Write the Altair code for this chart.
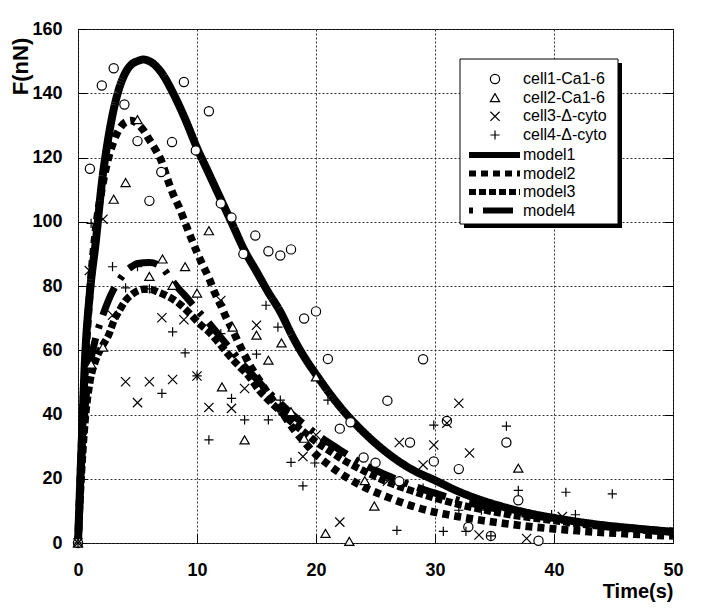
import altair as alt
import pandas as pd

FONT = "Liberation Sans"

x_ticks = [0, 10, 20, 30, 40, 50]
y_ticks = [0, 20, 40, 60, 80, 100, 120, 140, 160]

cell_names = ["cell1-Ca1-6", "cell2-Ca1-6", "cell3-\u0394-cyto", "cell4-\u0394-cyto"]
model_names = ["model1", "model2", "model3", "model4"]

# ---- measured points ----
cell1_t = [0, 1.0, 2.0, 3.0, 3.9, 5.0, 6.0, 7.0, 7.9, 8.9, 9.9, 11.0, 12.0, 12.9, 13.9, 14.9, 16.0, 17.0, 17.9,
           19.0, 20.0, 21.0, 22.0, 22.9, 24.0, 25.0, 26.0, 27.0, 27.9, 29.0, 29.9, 31.0, 32.0, 32.8, 34.7, 36.0,
           37.0, 38.7]
cell1_f = [0, 116.5, 142.4, 147.8, 136.5, 125.1, 106.5, 115.5, 124.8, 143.5, 122.2, 134.4, 105.7, 101.3, 90.0,
           95.7, 90.8, 89.5, 91.4, 69.9, 72.1, 57.3, 35.6, 37.6, 26.6, 25.0, 44.3, 19.2, 31.3, 57.2, 25.4, 38.0,
           23.0, 5.0, 2.2, 31.3, 13.3, 0.7]

cell2_t = [0, 1.1, 2.1, 3.0, 4.0, 5.0, 6.0, 7.1, 7.95, 9.0, 10.0, 11.0, 12.1, 13.0, 14.0, 15.0, 16.0, 17.1, 17.9,
           19.0, 20.0, 20.8, 22.8, 24.1, 24.9, 37.0]
cell2_f = [0, 55.7, 61.0, 107.0, 112.2, 131.8, 83.0, 88.4, 80.2, 86.0, 77.8, 97.2, 48.6, 67.2, 32.1, 64.7, 56.9,
           62.3, 40.9, 32.6, 51.7, 3.0, 0.5, 19.4, 11.5, 23.3]

cell3_t = [0, 0.95, 2.1, 2.9, 4.0, 5.0, 6.0, 7.05, 7.95, 8.9, 10.0, 11.0, 12.0, 12.9, 14.0, 15.0, 18.9, 20.0, 22.0,
           26.0, 27.0, 29.0, 29.9, 31.0, 32.0, 32.9, 33.7, 37.7, 40.7]
cell3_f = [0, 84.8, 100.8, 70.9, 50.2, 43.7, 50.2, 70.1, 50.9, 69.5, 52.0, 42.2, 75.5, 41.9, 48.1, 67.8, 26.9, 33.6,
           6.5, 19.2, 31.3, 24.3, 30.5, 37.3, 43.5, 28.0, 2.5, 1.4, 8.2]

cell4_t = [0, 1.1, 2.9, 4.0, 5.0, 6.0, 7.05, 7.95, 9.0, 10.0, 11.0, 12.0, 12.9, 14.0, 15.0, 15.8, 16.0, 16.8, 17.0,
           17.9, 18.9, 19.9, 21.0, 26.8, 29.0, 29.9, 30.7, 32.0, 32.6, 33.9, 34.7, 36.0, 37.0, 39.8, 41.0, 41.8,
           44.9]
cell4_f = [0, 99.5, 86.0, 79.4, 86.0, 79.1, 46.6, 65.7, 59.2, 52.0, 32.1, 65.2, 45.0, 38.3, 58.8, 74.0, 38.3, 67.2,
           44.5, 25.1, 17.8, 24.9, 44.5, 3.9, 17.1, 36.7, 3.6, 10.2, 3.6, 10.2, 2.2, 36.4, 16.4, 8.8, 15.8, 8.8, 15.3]

# ---- model curves ----
model1_t = [0, 0.3, 0.6, 1, 1.5, 2, 2.5, 3, 3.5, 4, 4.5, 5, 5.5, 6, 7, 8, 9, 10, 11, 12, 13, 14, 15, 16, 17, 18,
            19, 20, 22, 24, 26, 28, 30, 32, 34, 36, 38, 40, 42, 44, 46, 48, 50]
model1_f = [0, 30, 58, 78, 94, 112, 125, 135, 142, 146.5, 149, 150, 150.5, 150, 146.5, 140, 132, 123, 115, 107, 99,
            91, 84.5, 78, 72, 64.5, 58, 52.5, 42.5, 34.5, 28, 23, 19.5, 16, 13.2, 11, 9.2, 7.8, 6.6, 5.6, 4.8, 4.1,
            3.5]

model2_t = [0, 0.3, 0.6, 1, 1.5, 2, 2.5, 3, 3.5, 4, 4.5, 5, 5.5, 6, 6.5, 7, 7.5, 8, 8.5, 9, 9.5, 10, 10.5, 11, 11.5,
            12, 12.5, 13, 13.5, 14, 14.5, 15, 15.5, 16, 17, 18, 19, 20, 21, 22, 24, 26, 28, 30, 32, 34, 36, 38, 40,
            42, 44, 46, 48, 50]
model2_f = [0, 30, 55, 78, 98, 110, 119, 125, 129, 131, 131.5, 130.5, 128.5, 125.5, 122.5, 119, 113.5, 108.5, 104.5,
            99.7, 95, 90.5, 86.4, 82.5, 77.8, 74, 69.8, 66.2, 62.3, 58.5, 55, 52, 49.2, 46.3, 41.5, 36, 31.5, 27.5,
            24.5, 21.8, 17.5, 14.3, 11.6, 9.6, 8.2, 7, 6, 5.1, 4.4, 3.8, 3.3, 2.9, 2.5, 2.2]

model3_t = [0, 0.3, 0.6, 1, 1.5, 2, 2.6, 3, 3.5, 4, 4.5, 5, 5.5, 6, 6.8, 7.7, 8.5, 9.4, 10.2, 11, 11.9, 12.7, 13.6,
            14.4, 15.2, 16, 17, 18, 19, 20, 21, 22, 24, 26, 28, 30, 32, 34, 36, 38, 40, 42, 44, 46, 48, 50]
model3_f = [0, 22, 38, 50, 57, 61, 65, 69, 72.5, 75.5, 77.3, 78.5, 79, 79, 78, 76.5, 74.5, 71.4, 68.3, 65.7, 62,
            58.4, 54.8, 51.7, 47.6, 44.5, 41, 37.5, 34.5, 31.5, 29, 26.5, 22.5, 19, 16.3, 14, 12, 10.4, 9, 7.9, 7,
            6, 5.2, 4.5, 3.9, 3.4]

model4_t = [0, 0.3, 0.6, 1, 1.5, 2, 2.5, 3, 3.5, 4, 4.5, 5, 6, 7, 7.9, 8.5, 9, 9.9, 11, 12, 13, 14, 15, 16, 17, 18,
            19, 20, 22, 24, 26, 28, 30, 32, 34, 36, 38, 40, 42, 44, 46, 48, 50]
model4_f = [0, 25, 42, 55, 64, 70, 75, 79, 82, 84.5, 86, 87, 87.3, 86, 81.7, 79, 77, 73, 68.5, 64, 59.5, 55, 51, 47,
            43.5, 40, 37, 34, 29, 24.5, 21, 18, 15.5, 13.3, 11.5, 10, 8.6, 7.5, 6.5, 5.6, 4.9, 4.2, 3.7]

# ---- tables ----
pts = []
for name, ts, fs in zip(cell_names, [cell1_t, cell2_t, cell3_t, cell4_t], [cell1_f, cell2_f, cell3_f, cell4_f]):
    for t, f in zip(ts, fs):
        pts.append({"t": t, "F": f, "cell": name})
pts_df = pd.DataFrame(pts)
pts_a = pts_df[pts_df["cell"].isin(cell_names[:2])]
pts_b = pts_df[pts_df["cell"].isin(cell_names[2:])]

lns = []
for name, ts, fs in zip(model_names, [model1_t, model2_t, model3_t, model4_t],
                        [model1_f, model2_f, model3_f, model4_f]):
    for t, f in zip(ts, fs):
        lns.append({"t": t, "F": f, "model": name})
lines_df = pd.DataFrame(lns)

cells_df = pd.DataFrame({"cell": cell_names})
models_df = pd.DataFrame({"model": model_names})

W, H = 595, 514

def xs():
    return alt.Scale(domain=[0, 50], nice=False, zero=False)

def ys():
    return alt.Scale(domain=[0, 160], nice=False)

XPATH = "M-1,-1L1,1M-1,1L1,-1"
PPATH = "M-1,0L1,0M0,-1L0,1"

shape_scale = alt.Scale(domain=cell_names, range=["circle", "triangle-up", XPATH, PPATH])
dash_scale = alt.Scale(domain=model_names, range=[[1, 0], [7, 5], [7, 3], [4, 10, 30, 10]])

lines = alt.Chart(lines_df).mark_line(interpolate="monotone", color="black", strokeCap="butt").encode(
    x=alt.X("t:Q", scale=xs(), axis=alt.Axis(
        values=x_ticks, grid=True, ticks=False, tickSize=0, domain=False, labelFlush=False,
        labelFontSize=18, labelFontWeight="bold", labelPadding=18, labelFont=FONT, labelColor="black",
        title="Time(s)", titleFont=FONT, titleFontSize=20, titleFontWeight="bold", titleColor="black",
        titleAnchor="end", titleAlign="right", titleX=W, titleY=54, titleBaseline="alphabetic")),
    y=alt.Y("F:Q", scale=ys(), axis=alt.Axis(
        values=y_ticks, grid=True, ticks=False, tickSize=0, domain=False, labelFlush=False,
        labelFontSize=18, labelFontWeight="bold", labelPadding=16, labelFont=FONT, labelColor="black",
        title="F(nN)", titleFont=FONT, titleFontSize=22, titleFontWeight="bold", titleColor="black",
        titleAngle=270, titleX=-58, titleY=37, titleAlign="center", titleBaseline="middle")),
    strokeDash=alt.StrokeDash("model:N", scale=dash_scale, legend=None),
    strokeWidth=alt.StrokeWidth("model:N", scale=alt.Scale(domain=model_names, range=[8, 7, 6, 6]), legend=None),
)

point_mark = dict(filled=False, fill="white", color="black", stroke="black", strokeWidth=1.2, opacity=1, size=85)

tick_axis = dict(labels=False, ticks=True, tickSize=9, tickColor="black", tickWidth=1, domain=False,
                 grid=False, title=None)

points_a = alt.Chart(pts_a).mark_point(**point_mark).encode(
    x=alt.X("t:Q", scale=xs(), axis=alt.Axis(orient="top", offset=-H, values=x_ticks, **tick_axis)),
    y=alt.Y("F:Q", scale=ys(), axis=alt.Axis(orient="right", offset=-W, values=y_ticks, **tick_axis)),
    shape=alt.Shape("cell:N", scale=shape_scale, legend=None),
)
points_b = alt.Chart(pts_b).mark_point(**point_mark).encode(
    x=alt.X("t:Q", scale=xs(), axis=None),
    y=alt.Y("F:Q", scale=ys(), axis=alt.Axis(orient="left", offset=-W, values=y_ticks, **tick_axis)),
    shape=alt.Shape("cell:N", scale=shape_scale, legend=None),
)

# ---- legend box (drawn from marks) ----
one = pd.DataFrame({"k": [0]})
shadow = alt.Chart(one).mark_rect(fill="black").encode(
    x=alt.value(386), x2=alt.value(544), y=alt.value(34), y2=alt.value(199))
box = alt.Chart(one).mark_rect(fill="white", stroke="black", strokeWidth=1).encode(
    x=alt.value(382), x2=alt.value(540), y=alt.value(30), y2=alt.value(195))

cell_rows = alt.Y("cell:N", scale=alt.Scale(type="point", domain=cell_names, range=[50, 106], padding=0), axis=None)
model_rows = alt.Y("model:N", scale=alt.Scale(type="point", domain=model_names, range=[126, 181.5], padding=0),
                   axis=None)

leg_sym = alt.Chart(cells_df).mark_point(**point_mark).encode(
    x=alt.value(417), y=cell_rows, shape=alt.Shape("cell:N", scale=shape_scale, legend=None))
leg_sym_txt = alt.Chart(cells_df).mark_text(
    align="left", baseline="middle", font=FONT, fontSize=16, color="black").encode(
    x=alt.value(445), y=cell_rows, text="cell:N")
leg_line = alt.Chart(models_df).mark_rule(color="black", strokeCap="butt").encode(
    x=alt.value(391), x2=alt.value(442), y=model_rows,
    strokeDash=alt.StrokeDash("model:N", scale=dash_scale, legend=None),
    strokeWidth=alt.StrokeWidth("model:N", scale=alt.Scale(domain=model_names, range=[6, 6, 5, 5]), legend=None))
leg_line_txt = alt.Chart(models_df).mark_text(
    align="left", baseline="middle", font=FONT, fontSize=16, color="black").encode(
    x=alt.value(445), y=model_rows, text="model:N")

chart = alt.layer(lines, points_a, points_b, shadow, box, leg_sym, leg_sym_txt, leg_line, leg_line_txt).resolve_scale(
    x="independent", y="independent", strokeWidth="independent"
).properties(
    width=W, height=H,
    autosize=alt.AutoSizeParams(type="none"),
    padding={"left": 70, "top": 21, "right": 19, "bottom": 59},
    background="white",
).configure_view(
    stroke="black", strokeWidth=1
).configure_axis(
    gridColor="#333333", gridDash=[2, 2], gridWidth=1, gridOpacity=1
)

chart.save("out.html", embed_options={"renderer": "svg", "actions": False})
